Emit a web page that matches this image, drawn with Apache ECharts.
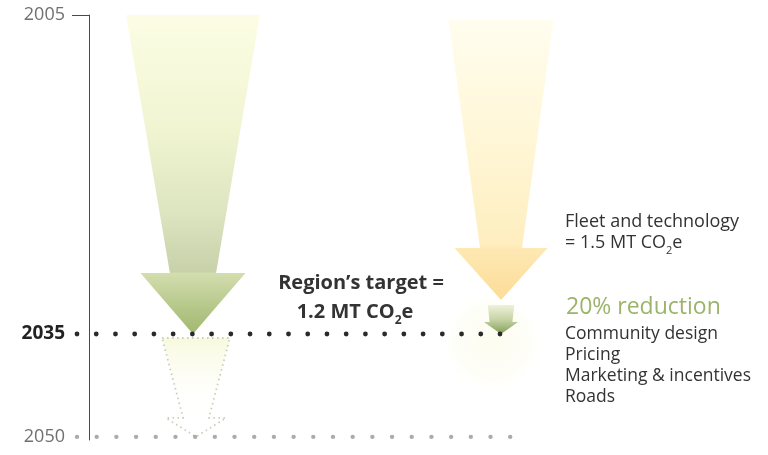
<!DOCTYPE html>
<html><head><meta charset="utf-8">
<script src="https://cdn.jsdelivr.net/npm/echarts@6/dist/echarts.min.js"></script>
<style>html,body{margin:0;padding:0;background:#fff}#c{width:768px;height:455px}</style>
</head><body><div id="c"></div>
<script>
// ---- data ----
const yTickLabels = ['2005', '2035', '2050'];
const yTickStages = [0, 3.025, 4];

const arrowNames = ['Region target', 'Fleet and technology', '20% reduction', '2035-2050 path'];
const arrowCenterX = [17.33, 68.67, 68.67, 17.83];
const arrowTopWidth = [22.3, 17.5, 4.4, 11.3];
const arrowNeckWidth = [7.7, 7.0, 3.8, 4.3];
const arrowHeadWidth = [17.5, 15.5, 5.7, 10.0];
const arrowTopStage = [0, 0.047, 2.75, 3.063];
const arrowHeadStage = [2.446, 2.209, 2.911, 3.821];
const arrowTipStage = [3.025, 2.702, 3.025, 4.0];

const dottedLineNames = ['2035 target line', '2050 line'];
const dottedLineStartX = [-2, -2];
const dottedLineEndX = [68.5, 70.2];
const dottedLineStage = [yTickStages[1], yTickStages[2]];
const dottedLineDotCount = [23, 23];

const glowCenter = [67.2, 3.1];

// ---- styles ----
const LG = (stops) => new echarts.graphic.LinearGradient(0, 0, 0, 1, stops.map(s => ({offset: s[0], color: s[1]})));
const arrowFills = [
  LG([[0,'#fcfde4'],[0.35,'#f1f5d2'],[0.62,'#dde4c0'],[0.805,'#c8d1aa'],[0.81,'#d3ddae'],[0.9,'#bacb8f'],[1,'#a1b76f']]),
  LG([[0,'#fffdef'],[0.4,'#fff7d8'],[0.8,'#feeec0'],[0.82,'#fee8b2'],[1,'#fcdc98']]),
  LG([[0,'#edf2dc'],[0.5,'#c6d3a5'],[1,'#839f58']]),
  LG([[0,'rgba(244,247,206,0.7)'],[0.4,'rgba(249,250,226,0.3)'],[0.75,'rgba(255,255,255,0)']])
];
const arrowStrokes = [null, null, null, '#c6cfb8'];
const dotColors = ['#2a2a2a', '#a8aea4'];
const dotRadius = [2.4, 2.2];

const chart = echarts.init(document.getElementById('c'), null, {renderer: 'canvas'});
const FONT = '"Open Sans", "Noto Sans", sans-serif';

chart.setOption({
  animation: false,
  backgroundColor: '#fff',
  grid: {left: 60, top: 15, width: 629, height: 425},
  xAxis: {type: 'value', min: -4.8333, max: 100, show: false},
  yAxis: {
    type: 'value', inverse: true, min: 0, max: 4.03, offset: -29,
    splitLine: {show: false},
    axisLine: {show: true, onZero: false, lineStyle: {color: '#4a4a4a', width: 1}},
    axisTick: {show: true, customValues: [0], length: 17, lineStyle: {color: '#4a4a4a', width: 1}},
    axisLabel: {
      customValues: yTickStages, margin: 24,
      formatter: v => {
        const i = yTickStages.findIndex(s => Math.abs(s - v) < 1e-6);
        if (i < 0) return '';
        return (i === 1 ? '{b|' : '{g|') + yTickLabels[i] + '}';
      },
      rich: {
        g: {fontSize: 18, color: '#707070', fontFamily: FONT},
        b: {fontSize: 19, fontWeight: 'bold', color: '#222', fontFamily: FONT}
      }
    }
  },
  series: [
    {
      type: 'custom', name: 'glow', silent: true, clip: false, z: 1,
      data: [glowCenter],
      renderItem: (p, api) => {
        const c = api.coord([api.value(0), api.value(1)]);
        return {type: 'circle', shape: {cx: c[0], cy: c[1], r: 52},
          style: {fill: new echarts.graphic.RadialGradient(0.5, 0.5, 0.5, [
            {offset: 0, color: 'rgba(250,250,222,0.45)'},
            {offset: 0.75, color: 'rgba(252,252,234,0.3)'},
            {offset: 1, color: 'rgba(255,255,255,0)'}])}};
      }
    },
    {
      type: 'custom', name: 'arrows', silent: true, clip: false, z: 2,
      encode: {x: 0, y: 4},
      data: arrowNames.map((n, i) => ({name: n, value: [arrowCenterX[i], arrowTopWidth[i], arrowNeckWidth[i], arrowHeadWidth[i], arrowTopStage[i], arrowHeadStage[i], arrowTipStage[i]]})),
      renderItem: (p, api) => {
        const i = p.dataIndex;
        const cx = api.value(0), tw = api.value(1), nw = api.value(2), hw = api.value(3);
        const t = api.value(4), h = api.value(5), tip = api.value(6);
        const pts = [
          api.coord([cx - tw / 2, t]), api.coord([cx + tw / 2, t]),
          api.coord([cx + nw / 2, h]), api.coord([cx + hw / 2, h]),
          api.coord([cx, tip]),
          api.coord([cx - hw / 2, h]), api.coord([cx - nw / 2, h])
        ];
        const st = {fill: arrowFills[i]};
        if (arrowStrokes[i]) { st.stroke = arrowStrokes[i]; st.lineWidth = 1.8; st.lineDash = [1.5, 3.5]; }
        return {type: 'polygon', shape: {points: pts}, style: st};
      }
    },
    {
      type: 'custom', name: 'dotted lines', silent: true, clip: false, z: 5,
      encode: {x: [0, 1], y: 2},
      data: dottedLineNames.map((n, i) => ({name: n, value: [dottedLineStartX[i], dottedLineEndX[i], dottedLineStage[i], dottedLineDotCount[i]]})),
      renderItem: (p, api) => {
        const i = p.dataIndex;
        const a = api.coord([api.value(0), api.value(2)]);
        const b = api.coord([api.value(1), api.value(2)]);
        const n = api.value(3);
        const children = [];
        for (let k = 0; k < n; k++) {
          const x = a[0] + (b[0] - a[0]) * k / (n - 1);
          children.push({type: 'circle', shape: {cx: x, cy: a[1], r: dotRadius[i]}, style: {fill: dotColors[i]}});
        }
        return {type: 'group', children};
      }
    }
  ],
  graphic: [
    {type: 'text', x: 361, y: 283, z: 10, style: {text: 'Region’s target =', fill: '#333', font: 'bold 20px ' + FONT, align: 'center', verticalAlign: 'middle'}},
    {type: 'text', x: 355, y: 312, z: 10, style: {text: '{n|1.2 MT CO}{s|2}{n|e}', align: 'center', verticalAlign: 'middle',
      rich: {n: {fontSize: 20, fontWeight: 'bold', fill: '#333', color: '#333', fontFamily: FONT, lineHeight: 22},
             s: {fontSize: 12, fontWeight: 'bold', fill: '#333', color: '#333', fontFamily: FONT, lineHeight: 30, verticalAlign: 'bottom'}}}},
    {type: 'text', x: 565, y: 222, z: 10, style: {text: 'Fleet and technology', fill: '#333', font: '18px ' + FONT, align: 'left', verticalAlign: 'middle'}},
    {type: 'text', x: 565, y: 243, z: 10, style: {text: '{n|= 1.5 MT CO}{s|2}{n|e}', align: 'left', verticalAlign: 'middle',
      rich: {n: {fontSize: 18, fill: '#333', color: '#333', fontFamily: FONT, lineHeight: 20},
             s: {fontSize: 11, fill: '#333', color: '#333', fontFamily: FONT, lineHeight: 27, verticalAlign: 'bottom'}}}},
    {type: 'text', x: 566, y: 307, z: 10, style: {text: '20% reduction', fill: '#9bb46b', font: '23px ' + FONT, align: 'left', verticalAlign: 'middle'}},
    {type: 'text', x: 565, y: 323.5, z: 10, style: {text: 'Community design\nPricing\nMarketing & incentives\nRoads', fill: '#333', font: '17.5px ' + FONT, lineHeight: 21, align: 'left', verticalAlign: 'top'}}
  ]
});
</script></body></html>
